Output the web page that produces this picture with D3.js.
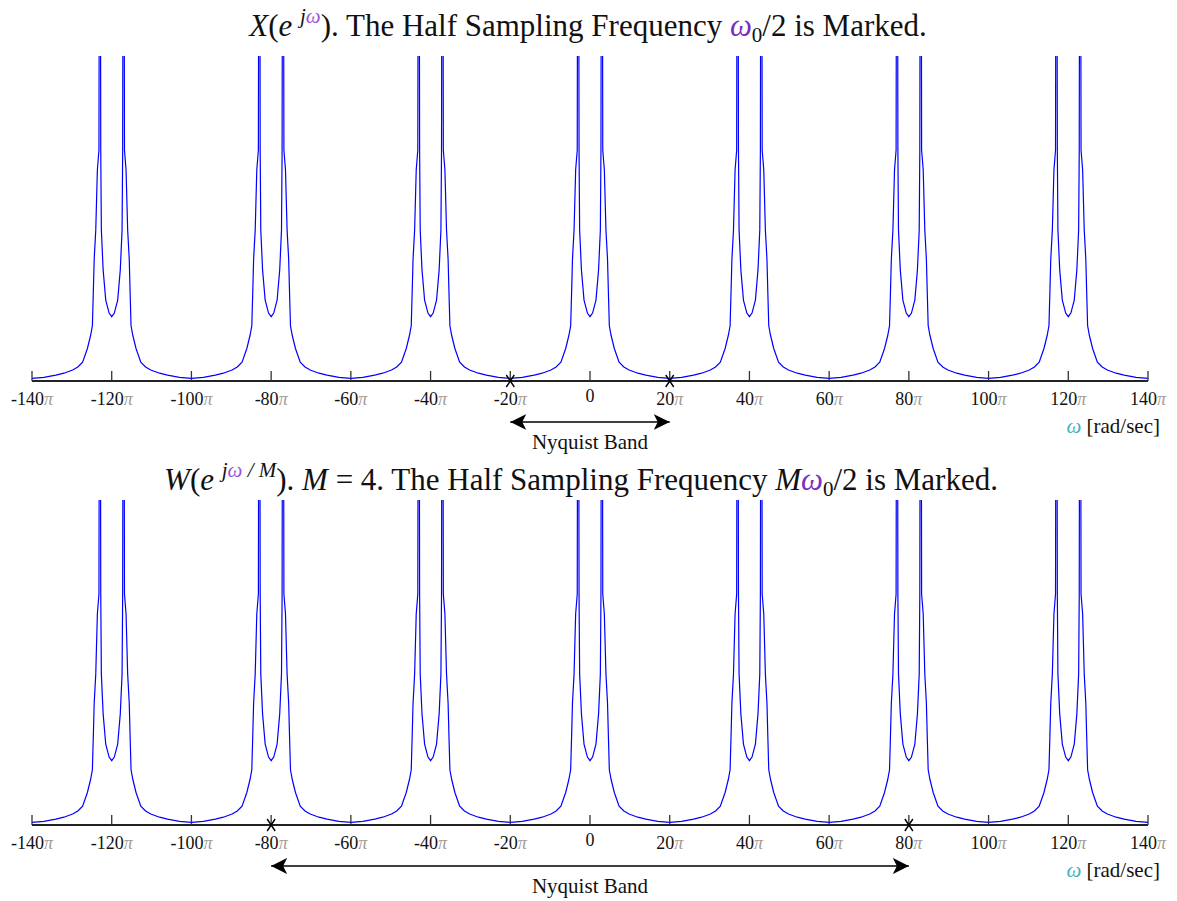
<!DOCTYPE html>
<html>
<head>
<meta charset="utf-8">
<script src="https://cdn.jsdelivr.net/npm/d3@7"></script>
<style>
  body { margin: 0; background: #fff; }
  svg { display: block; font-family: "Liberation Serif", "Times New Roman", serif; }
</style>
</head>
<body>
<div id="chart"></div>
<script>
// tick values, in units of pi
const tickValues = [-140, -120, -100, -80, -60, -40, -20, 0, 20, 40, 60, 80, 100, 120, 140]
// centres of the repeated spectral lobes (units of pi)
const lobeCenters = [-120, -80, -40, 0, 40, 80, 120]
// one lobe: offset from centre (units of pi) and magnitude (1 = top of plot)
const lobeOffsets = [-20, -17, -14, -12, -9.8, -8.5, -7.3, -6.1, -5.3, -4.85, -4.6, -4.4, -4.0, -3.6, -3.2, -3.1, -2.85, -2.75, -2.6, -2.15, -1.5, -0.65, 0,
  0.65, 1.5, 2.15, 2.6, 2.75, 2.85, 3.1, 3.2, 3.6, 4.0, 4.4, 4.6, 4.85, 5.3, 6.1, 7.3, 8.5, 9.8, 12, 14, 17, 20]
const lobeMagnitudes = [0.008, 0.011, 0.018, 0.024, 0.034, 0.043, 0.058, 0.1, 0.14, 0.17, 0.28, 0.374, 0.465, 0.649, 0.711, 1.5, 1.5, 0.711, 0.465, 0.342, 0.249, 0.209, 0.198,
  0.209, 0.249, 0.342, 0.465, 0.711, 1.5, 1.5, 0.711, 0.649, 0.465, 0.374, 0.28, 0.17, 0.14, 0.1, 0.058, 0.043, 0.034, 0.024, 0.018, 0.011, 0.008]
// half sampling frequency marks per panel
const nyquistTop = [-20, 20]
const nyquistBottom = [-80, 80]

const width = 1177, height = 901
const svg = d3.select("#chart").append("svg").attr("width", width).attr("height", height)

const x = d3.scaleLinear().domain([-140, 140]).range([32, 1148])

// arrow head
svg.append("defs").append("marker")
  .attr("id", "arrowHead")
  .attr("viewBox", "0 -8 16 16")
  .attr("refX", 16).attr("refY", 0)
  .attr("markerUnits", "userSpaceOnUse")
  .attr("markerWidth", 16).attr("markerHeight", 16)
  .attr("orient", "auto-start-reverse")
  .append("path")
  .attr("d", "M0,-8L16,0L0,8L4,0Z")
  .attr("fill", "#000")

// points of the whole spectrum
const points = []
lobeCenters.forEach(c => {
  lobeOffsets.forEach((o, i) => points.push([c + o, lobeMagnitudes[i]]))
})

function drawPanel(id, axisY, marks) {
  const top = axisY - 325
  const y = d3.scaleLinear().domain([0, 1]).range([axisY, top])
  const g = svg.append("g")

  g.append("clipPath").attr("id", "clip" + id)
    .append("rect").attr("x", 0).attr("y", top).attr("width", width).attr("height", axisY - top)

  g.append("path")
    .datum(points)
    .attr("clip-path", `url(#clip${id})`)
    .attr("fill", "none")
    .attr("stroke", "#0000ff")
    .attr("stroke-width", 1.2)
    .attr("d", d3.line().x(d => x(d[0])).y(d => y(d[1])))

  // axis line and ticks
  g.append("line")
    .attr("x1", x(-140)).attr("x2", x(140))
    .attr("y1", axisY).attr("y2", axisY)
    .attr("stroke", "#222").attr("stroke-width", 2)
  g.selectAll(".tick").data(tickValues).enter().append("line")
    .attr("x1", d => x(d)).attr("x2", d => x(d))
    .attr("y1", axisY).attr("y2", axisY - 10)
    .attr("stroke", "#333").attr("stroke-width", 1.3)

  const labels = g.selectAll(".lbl").data(tickValues).enter().append("text")
    .attr("x", d => x(d))
    .attr("y", d => axisY + (d === 0 ? 21 : 24))
    .attr("text-anchor", "middle")
    .attr("font-size", 18)
    .attr("fill", "#111")
  labels.append("tspan").text(d => d)
  labels.filter(d => d !== 0).append("tspan").attr("fill", "#a39c96").attr("font-style", "italic").text("\u03c0")

  const unit = g.append("text")
    .attr("x", 1160).attr("y", axisY + 52)
    .attr("text-anchor", "end").attr("font-size", 21).attr("fill", "#111")
  unit.append("tspan").attr("fill", "#3fb3bd").attr("font-style", "italic").text("\u03c9")
  unit.append("tspan").text(" [rad/sec]")

  // half sampling frequency marks
  marks.forEach(m => {
    const cx = x(m)
    g.append("path")
      .attr("d", `M${cx - 4},${axisY - 6}L${cx + 4},${axisY + 6}M${cx + 4},${axisY - 6}L${cx - 4},${axisY + 6}`)
      .attr("stroke", "#000").attr("stroke-width", 1.4)
  })

  // Nyquist band arrow
  const ay = axisY + 41
  g.append("line")
    .attr("x1", x(marks[0])).attr("x2", x(marks[1]))
    .attr("y1", ay).attr("y2", ay)
    .attr("stroke", "#000").attr("stroke-width", 1.5)
    .attr("marker-start", "url(#arrowHead)")
    .attr("marker-end", "url(#arrowHead)")
  g.append("text")
    .attr("x", x(0)).attr("y", axisY + 68)
    .attr("text-anchor", "middle").attr("font-size", 21).attr("fill", "#111")
    .text("Nyquist Band")
}

drawPanel("a", 381, nyquistTop)
drawPanel("b", 825, nyquistBottom)

// titles
const purple = "#7b2fc0"
const t1 = svg.append("text").attr("x", 588).attr("y", 36).attr("text-anchor", "middle").attr("font-size", 31).attr("fill", "#111")
t1.append("tspan").attr("font-style", "italic").text("X")
t1.append("tspan").text("(")
t1.append("tspan").attr("font-style", "italic").text("e ")
t1.append("tspan").attr("font-style", "italic").attr("font-size", 21).attr("dy", -13).text("j")
t1.append("tspan").attr("font-style", "italic").attr("font-size", 21).attr("fill", "#9a55e0").text("\u03c9")
t1.append("tspan").attr("dy", 13).text("). The Half Sampling Frequency ")
t1.append("tspan").attr("font-style", "italic").attr("fill", purple).text("\u03c9")
t1.append("tspan").attr("font-size", 21).attr("dy", 6).text("0")
t1.append("tspan").attr("dy", -6).text("/2 is Marked.")

const t2 = svg.append("text").attr("x", 581).attr("y", 490).attr("text-anchor", "middle").attr("font-size", 31).attr("fill", "#111")
t2.append("tspan").attr("font-style", "italic").text("W")
t2.append("tspan").text("(")
t2.append("tspan").attr("font-style", "italic").text("e ")
t2.append("tspan").attr("font-style", "italic").attr("font-size", 21).attr("dy", -13).text("j")
t2.append("tspan").attr("font-style", "italic").attr("font-size", 21).attr("fill", "#9a55e0").text("\u03c9")
t2.append("tspan").attr("font-style", "italic").attr("font-size", 21).text(" / M")
t2.append("tspan").attr("dy", 13).text("). ")
t2.append("tspan").attr("font-style", "italic").text("M")
t2.append("tspan").text(" = 4. The Half Sampling Frequency ")
t2.append("tspan").attr("font-style", "italic").text("M")
t2.append("tspan").attr("font-style", "italic").attr("fill", purple).text("\u03c9")
t2.append("tspan").attr("font-size", 21).attr("dy", 6).text("0")
t2.append("tspan").attr("dy", -6).text("/2 is Marked.")
</script>
</body>
</html>
